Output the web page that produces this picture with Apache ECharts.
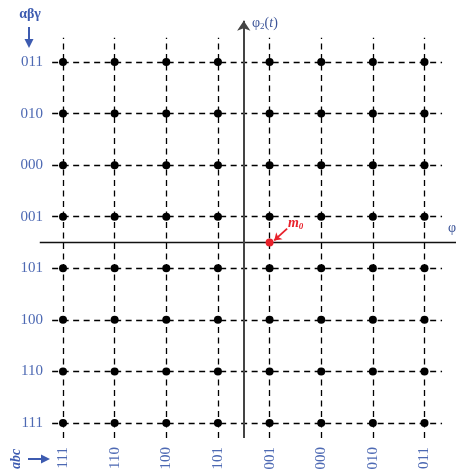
<!DOCTYPE html>
<html>
<head>
<meta charset="utf-8">
<title>Signal constellation</title>
<script src="https://cdn.jsdelivr.net/npm/echarts@6/dist/echarts.min.js"></script>
<style>
  html, body { margin: 0; padding: 0; background: #fff; }
  #chart { width: 456px; height: 474px; }
</style>
</head>
<body>
<div id="chart"></div>
<script>
// Gray-coded columns (left to right) and rows (bottom to top)
const colCodes = ['111', '110', '100', '101', '001', '000', '010', '011'];
const rowCodes = ['111', '110', '100', '101', '001', '000', '010', '011'];

// m0 sits on the φ1 axis below the 001 column
const m0Point = [4, 3.5];

// axis crossing (between the 4th and 5th row / column)
const axisCross = [3.5, 3.5];

// extents of the dashed lattice lines and of the two axes, in data units
const hLineSpan = [-0.21, 7.34];
const vLineSpan = [-0.29, 7.47];
const phi1Span = [-0.45, 7.9];
const phi2Span = [-0.29, 7.8];

const labelBlue = '#4d69b3';
const serif = '"Liberation Serif", "DejaVu Serif", serif';

const points = [];
colCodes.forEach((c, i) => rowCodes.forEach((r, j) => points.push([i, j])));

const dashStyle = { color: '#000', width: 1.3, type: [6, 4.5], opacity: 1 };

const chart = echarts.init(document.getElementById('chart'), null, { renderer: 'canvas' });

chart.setOption({
  animation: false,
  backgroundColor: '#fff',
  grid: { left: 63, right: 31.5, top: 62, bottom: 51 },
  xAxis: {
    type: 'value', min: 0, max: colCodes.length - 1, interval: 1,
    axisLine: { show: false }, axisTick: { show: false }, splitLine: { show: false },
    axisLabel: {
      rotate: 90, margin: 24, color: labelBlue, fontFamily: serif, fontSize: 15,
      formatter: v => colCodes[v]
    }
  },
  yAxis: {
    type: 'value', min: 0, max: rowCodes.length - 1, interval: 1,
    axisLine: { show: false }, axisTick: { show: false }, splitLine: { show: false },
    axisLabel: {
      margin: 20, color: labelBlue, fontFamily: serif, fontSize: 15,
      formatter: v => rowCodes[v]
    }
  },
  series: [
    {
      name: 'rows', type: 'lines', coordinateSystem: 'cartesian2d', clip: false,
      lineStyle: dashStyle, symbol: 'none',
      data: rowCodes.map((_, j) => ({ coords: [[hLineSpan[0], j], [hLineSpan[1], j]] }))
    },
    {
      name: 'columns', type: 'lines', coordinateSystem: 'cartesian2d', clip: false,
      lineStyle: dashStyle, symbol: 'none',
      data: colCodes.map((_, i) => ({ coords: [[i, vLineSpan[0]], [i, vLineSpan[1]]] }))
    },
    {
      name: 'phi1', type: 'lines', coordinateSystem: 'cartesian2d', clip: false,
      lineStyle: { color: '#111', width: 1.4, type: 'solid', opacity: 1 }, symbol: 'none',
      data: [{ coords: [[phi1Span[0], axisCross[1]], [phi1Span[1], axisCross[1]]] }]
    },
    {
      name: 'phi2', type: 'lines', coordinateSystem: 'cartesian2d', clip: false,
      lineStyle: { color: '#444', width: 2, type: 'solid', opacity: 1 },
      symbol: ['none', 'arrow'], symbolSize: 10,
      data: [{ coords: [[axisCross[0], phi2Span[0]], [axisCross[0], phi2Span[1]]] }]
    },
    {
      name: 'signals', type: 'scatter', clip: false,
      symbol: 'circle', symbolSize: 8,
      itemStyle: { color: '#000', opacity: 1 },
      data: points
    },
    {
      name: 'm0 arrow', type: 'lines', coordinateSystem: 'cartesian2d', clip: false,
      lineStyle: { color: '#e8202a', width: 1.8, type: 'solid', opacity: 1 },
      symbol: ['none', 'arrow'], symbolSize: 7,
      data: [{ coords: [[m0Point[0] + 0.34, m0Point[1] + 0.27], [m0Point[0] + 0.09, m0Point[1] + 0.04]] }]
    },
    {
      name: 'm0', type: 'scatter', clip: false,
      symbol: 'circle', symbolSize: 8,
      itemStyle: { color: '#e8202a', opacity: 1 },
      label: {
        show: true, position: 'inside', offset: [26, -19],
        formatter: '{m|m}{s|0}',
        rich: {
          m: { color: '#e8202a', fontFamily: serif, fontStyle: 'italic', fontWeight: 'bold', fontSize: 14 },
          s: { color: '#e8202a', fontFamily: serif, fontStyle: 'italic', fontWeight: 'bold', fontSize: 9, padding: [6, 0, 0, 0] }
        }
      },
      data: [m0Point]
    }
  ],
  graphic: [
    {
      type: 'text', x: 252, y: 15,
      style: {
        text: '{a|φ}{s|2}{a|(}{i|t}{a|)}',
        rich: {
          a: { fill: '#3d5599', fontFamily: serif, fontSize: 14 },
          s: { fill: '#3d5599', fontFamily: serif, fontSize: 9, padding: [7, 0, 0, 0] },
          i: { fill: '#3d5599', fontFamily: serif, fontSize: 14, fontStyle: 'italic' }
        }
      }
    },
    {
      type: 'text', x: 448, y: 220,
      style: {
        text: '{a|φ}{s|1}{a|(}{i|t}{a|)}',
        rich: {
          a: { fill: '#3d5599', fontFamily: serif, fontSize: 14 },
          s: { fill: '#3d5599', fontFamily: serif, fontSize: 9, padding: [7, 0, 0, 0] },
          i: { fill: '#3d5599', fontFamily: serif, fontSize: 14, fontStyle: 'italic' }
        }
      }
    },
    {
      type: 'text', x: 30, y: 14,
      style: {
        text: 'αβγ', fill: '#3d5bb0', font: 'bold 14px ' + serif,
        align: 'center', verticalAlign: 'middle'
      }
    },
    {
      type: 'line', shape: { x1: 29, y1: 27, x2: 29, y2: 42 },
      style: { stroke: '#3d5bb0', lineWidth: 2 }
    },
    {
      type: 'polygon', shape: { points: [[24.5, 39], [33.5, 39], [29, 48]] },
      style: { fill: '#3d5bb0' }
    },
    {
      type: 'text', x: 16, y: 459, rotation: Math.PI / 2,
      style: {
        text: 'abc', fill: '#3d5bb0', font: 'italic bold 14px ' + serif,
        align: 'center', verticalAlign: 'middle'
      }
    },
    {
      type: 'line', shape: { x1: 28, y1: 459, x2: 43, y2: 459 },
      style: { stroke: '#3d5bb0', lineWidth: 2 }
    },
    {
      type: 'polygon', shape: { points: [[41, 454.5], [41, 463.5], [50, 459]] },
      style: { fill: '#3d5bb0' }
    }
  ]
});
</script>
</body>
</html>
